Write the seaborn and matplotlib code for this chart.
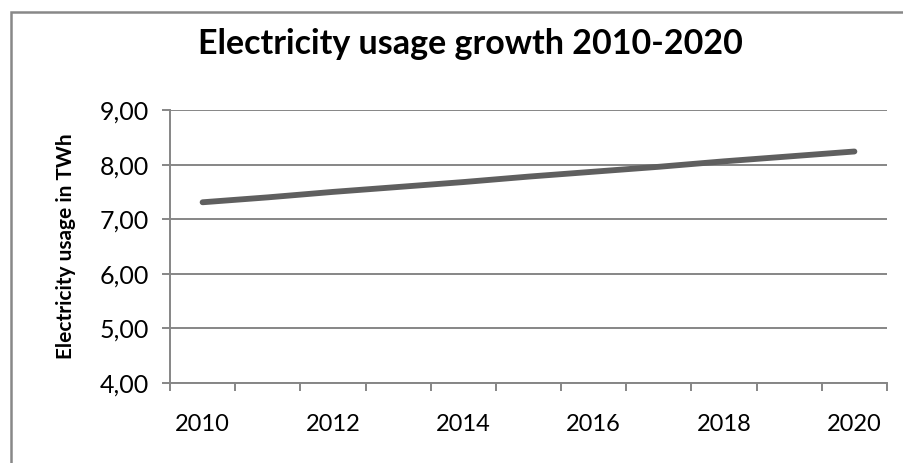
import matplotlib
matplotlib.use("Agg")
import matplotlib.pyplot as plt
import seaborn as sns
import pandas as pd
from matplotlib.ticker import FixedLocator, FuncFormatter
from matplotlib.patches import Rectangle

years = [2010, 2011, 2012, 2013, 2014, 2015, 2016, 2017, 2018, 2019, 2020]
usage = [7.31, 7.40, 7.50, 7.59, 7.68, 7.78, 7.87, 7.96, 8.06, 8.15, 8.24]
x_labels = [2010, 2012, 2014, 2016, 2018, 2020]
y_ticks = [4, 5, 6, 7, 8, 9]
title = "Electricity usage growth 2010-2020"
ylabel = "Electricity usage in TWh"

sns.set_theme(style="white")
plt.rcParams['font.family'] = ['Lato', 'DejaVu Sans']

df = pd.DataFrame({"year": years, "usage": usage})

fig = plt.figure(figsize=(9.04, 4.63), dpi=100)
ax = fig.add_axes([170/904, 1-383/463, (887-170)/904, (383-110)/463])

grid_c = "#868686"
sns.lineplot(data=df, x="year", y="usage", ax=ax, color="#5f5f5f", linewidth=4.2,
             solid_capstyle="round")

ax.set_xlim(years[0]-0.5, years[-1]+0.5)
ax.set_ylim(min(y_ticks), max(y_ticks))
ax.yaxis.set_major_locator(FixedLocator(y_ticks))
ax.yaxis.set_major_formatter(FuncFormatter(lambda v, p: f"{v:.2f}".replace(".", ",")))
ax.xaxis.set_major_locator(FixedLocator(x_labels))
ax.xaxis.set_minor_locator(FixedLocator([y - 0.5 for y in years] + [years[-1] + 0.5]))
ax.xaxis.set_major_formatter(FuncFormatter(lambda v, p: f"{int(round(v))}"))

ax.grid(axis="y", color=grid_c, linewidth=1.4)
ax.set_axisbelow(True)
for s in ["top", "right"]:
    ax.spines[s].set_visible(False)
for s in ["left", "bottom"]:
    ax.spines[s].set_color(grid_c)
    ax.spines[s].set_linewidth(1.4)

ax.tick_params(axis="y", which="major", length=6, width=1.4, color=grid_c, direction="out",
               left=True, labelsize=18, pad=9, labelcolor="black")
ax.tick_params(axis="x", which="major", length=0, labelsize=17, pad=22, labelcolor="black")
ax.tick_params(axis="x", which="minor", length=6, width=1.4, color=grid_c, direction="out",
               bottom=True)

ax.set_xlabel("")
ax.set_ylabel(ylabel, fontsize=15, fontweight="bold", labelpad=17, color="black")
fig.text(470/904, 1-44/463, title, ha="center", va="center", fontsize=24.5,
         fontweight="bold", color="black")

fig.patches.append(Rectangle((10.5/904, -0.1), 1.2, 1.1 - 11.5/463,
                             transform=fig.transFigure, fill=False,
                             edgecolor="#888888", linewidth=1.8, figure=fig))

fig.savefig("out.png", dpi=100, facecolor="white")
